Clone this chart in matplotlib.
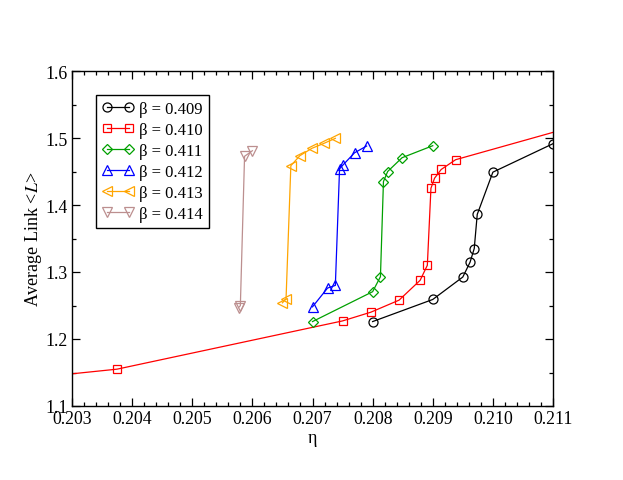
import matplotlib
matplotlib.use("Agg")
import matplotlib.pyplot as plt
from matplotlib.ticker import MultipleLocator

# =========================================================
# DATA
# =========================================================
eta_409 = [0.2080, 0.2090, 0.2095, 0.20962, 0.20969, 0.20974, 0.2100, 0.2110]
L_409 = [1.226, 1.259, 1.2925, 1.3145, 1.335, 1.386, 1.449, 1.4915]

eta_410 = [0.2025, 0.20375, 0.2075, 0.20797, 0.20844, 0.20879, 0.20891,
           0.20897, 0.20903, 0.20914, 0.20938, 0.2115]
L_410 = [1.1434, 1.155, 1.227, 1.240, 1.258, 1.2876, 1.310,
         1.425, 1.440, 1.453, 1.4676, 1.521]

eta_411 = [0.2070, 0.2080, 0.20813, 0.20818, 0.20825, 0.20849, 0.2090]
L_411 = [1.226, 1.2706, 1.293, 1.435, 1.450, 1.4706, 1.4885]

eta_412 = [0.2070, 0.20725, 0.20738, 0.20745, 0.20751, 0.2077, 0.2079]
L_412 = [1.248, 1.276, 1.280, 1.454, 1.460, 1.478, 1.488]

eta_413 = [0.2065, 0.20656, 0.20664, 0.20679, 0.20699, 0.20719, 0.20738]
L_413 = [1.254, 1.260, 1.4587, 1.4736, 1.4846, 1.492, 1.4995]

eta_414 = [0.20577, 0.2058, 0.20587, 0.2060]
L_414 = [1.247, 1.2497, 1.4727, 1.481]

series = [
    (eta_409, L_409, "β = 0.409", "black", "o", 6.5),
    (eta_410, L_410, "β = 0.410", "red", "s", 6.0),
    (eta_411, L_411, "β = 0.411", "#00a000", "D", 5.0),
    (eta_412, L_412, "β = 0.412", "blue", "^", 7.0),
    (eta_413, L_413, "β = 0.413", "orange", "<", 7.0),
    (eta_414, L_414, "β = 0.414", "rosybrown", "v", 7.0),
]

# =========================================================
# FIGURE
# =========================================================
plt.rcParams['font.family'] = ['Liberation Serif', 'DejaVu Serif']
plt.rcParams['mathtext.fontset'] = 'stix'

fig = plt.figure(figsize=(6.23, 4.81), dpi=100)
ax = fig.add_axes([72 / 623, 1 - 407 / 481, 481 / 623, 335 / 481])

for x, y, label, color, marker, ms in series:
    ax.plot(
        x, y,
        color=color,
        linewidth=0.9,
        marker=marker,
        markersize=ms,
        markerfacecolor='none',
        markeredgecolor=color,
        markeredgewidth=0.9,
        label=label
    )

ax.set_xlim(0.203, 0.211)
ax.set_ylim(1.1, 1.6)

ax.xaxis.set_major_locator(MultipleLocator(0.001))
ax.xaxis.set_minor_locator(MultipleLocator(0.0002))
ax.yaxis.set_major_locator(MultipleLocator(0.1))
ax.yaxis.set_minor_locator(MultipleLocator(0.05))
ax.set_xticklabels([f"{v:.3f}" for v in ax.get_xticks()])
ax.set_yticklabels([f"{v:.1f}" for v in ax.get_yticks()])

ax.tick_params(which='both', direction='in', top=True, right=True,
               labelsize=12.8, width=0.9)
ax.tick_params(which='major', length=6, pad=3)
ax.tick_params(which='minor', length=3)
for s in ax.spines.values():
    s.set_linewidth(1.0)

ax.set_xlabel("η", fontsize=13, labelpad=1)
ax.set_ylabel(r"Average Link <$L$>", fontsize=13, labelpad=1)

leg = ax.legend(
    loc='upper left',
    bbox_to_anchor=(96 / 623, 1 - 96 / 481),
    bbox_transform=fig.transFigure,
    borderaxespad=0,
    numpoints=2,
    fontsize=12,
    handlelength=1.9,
    handletextpad=0.35,
    labelspacing=0.3,
    borderpad=0.35,
    fancybox=False,
    framealpha=1,
    edgecolor='black'
)
leg.get_frame().set_linewidth(1.0)

fig.savefig("out.png", dpi=100)
plt.close(fig)
